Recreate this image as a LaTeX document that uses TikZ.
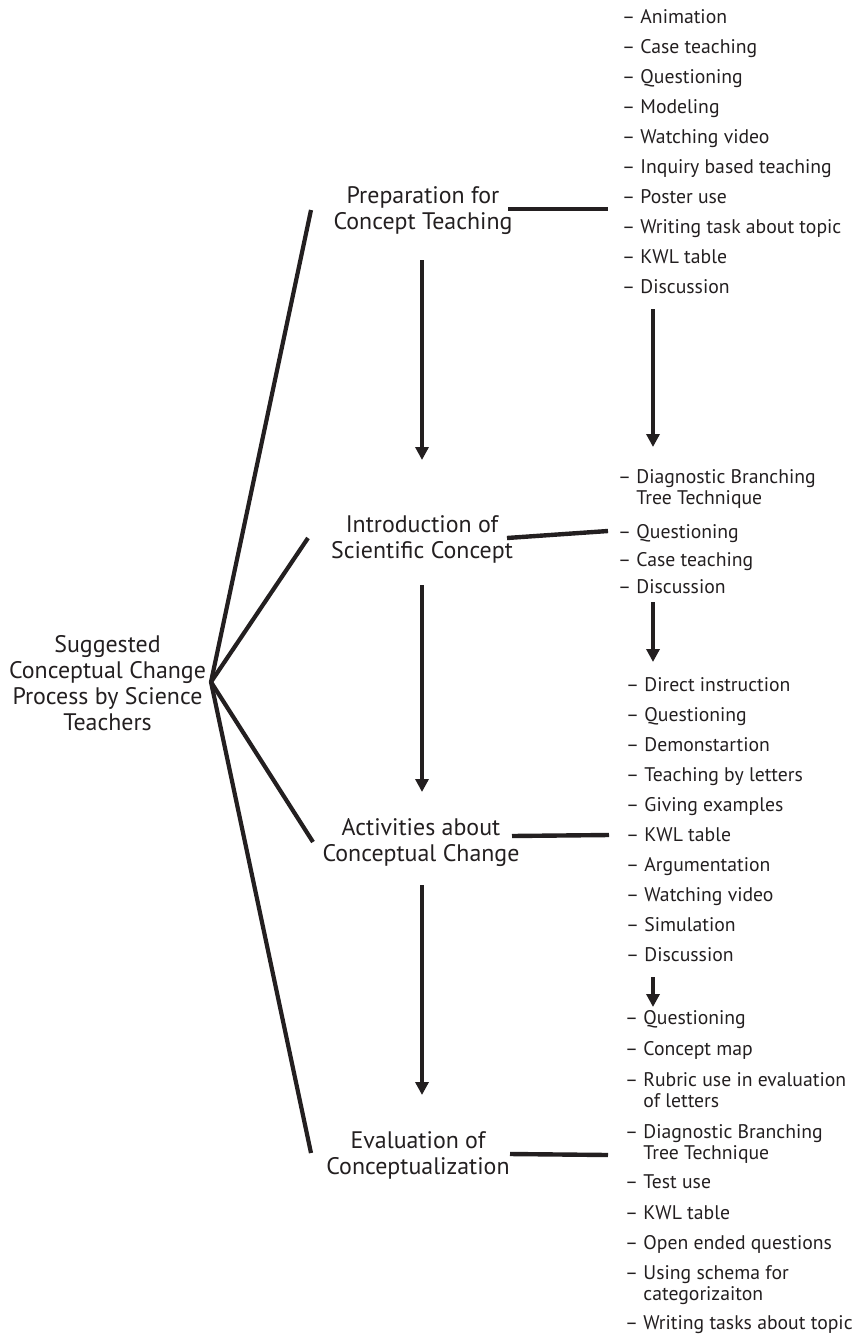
\documentclass[tikz,border=0pt]{standalone}
\usepackage{fontspec}
\setmainfont{PT Sans}
\usetikzlibrary{arrows.meta}
\definecolor{ink}{HTML}{231F20}

\begin{document}
\begin{tikzpicture}[x=1pt,y=-1pt,
  mainlabel/.style={font=\fontsize{23.9}{26}\selectfont, align=center, text=ink, inner sep=0pt},
  item/.style={font=\fontsize{19.7}{21}\selectfont, anchor=base west, text=ink, inner sep=0pt},
  link/.style={draw=ink, line width=4.4pt},
  fan/.style={draw=ink, line width=4.2pt},
  flow/.style={draw=ink, line width=3.4pt, -{Triangle[width=13pt,length=13pt]}}]
\useasboundingbox (0,0) rectangle (866,1336);

% two-line list entries keep the second line under the first word
\newcommand{\twoline}[2]{\begin{tabular}[t]{@{}l@{}}\textendash\ #1\\\phantom{\textendash\ }#2\end{tabular}}

% root and the four stages
\node[mainlabel] (sug)   at (107.5,683) {Suggested\\Conceptual Change\\Process by Science\\Teachers};
\node[mainlabel] (prep)  at (423,211)   {Preparation for\\Concept Teaching};
\node[mainlabel] (intro) at (422,539)   {Introduction of\\Scientific Concept};
\node[mainlabel] (act)   at (421,843)   {Activities about\\Conceptual Change};
\node[mainlabel] (eval)  at (418,1155)  {Evaluation of\\Conceptualization};

% fan from the root to each stage
\coordinate (hub) at (211,682);
\coordinate (f1) at (311,210);
\coordinate (f2) at (308,538);
\coordinate (f3) at (313,842);
\coordinate (f4) at (311,1153);
\draw[fan, line join=miter] (f1) -- (hub) -- (f4);
\draw[fan] (hub) -- (f2);
\draw[fan] (hub) -- (f3);

% stage-to-stage arrows
\coordinate (s1a) at (422,260);  \coordinate (s1b) at (422,460);
\coordinate (s2a) at (422,585);  \coordinate (s2b) at (422,792);
\coordinate (s3a) at (422,885);  \coordinate (s3b) at (422,1095);
\draw[flow] (s1a) -- (s1b);
\draw[flow] (s2a) -- (s2b);
\draw[flow] (s3a) -- (s3b);

% list of preparation methods
\foreach \t [count=\k from 0] in {Animation,Case teaching,Questioning,Modeling,Watching video,Inquiry based teaching,Poster use,Writing task about topic,KWL table,Discussion}
  \node[item] (p\k) at (622,23+30*\k) {\textendash\ \t};

% list of introduction methods
\node[item] (i0) at (618,483) {\twoline{Diagnostic Branching}{Tree Technique}};
\node[item] (i1) at (618,538) {\textendash\ Questioning};
\node[item] (i2) at (618,566) {\textendash\ Case teaching};
\node[item] (i3) at (618,593) {\textendash\ Discussion};

% list of activities
\foreach \t [count=\k from 0] in {Direct instruction,Questioning,Demonstartion,Teaching by letters,Giving examples,KWL table,Argumentation,Watching video,Simulation,Discussion}
  \node[item] (a\k) at (626,691+30*\k) {\textendash\ \t};

% list of evaluation methods
\node[item] (e0) at (625,1024) {\textendash\ Questioning};
\node[item] (e1) at (625,1055) {\textendash\ Concept map};
\node[item] (e2) at (625,1086) {\twoline{Rubric use in evaluation}{of letters}};
\node[item] (e3) at (625,1138) {\twoline{Diagnostic Branching}{Tree Technique}};
\node[item] (e4) at (625,1188) {\textendash\ Test use};
\node[item] (e5) at (625,1219) {\textendash\ KWL table};
\node[item] (e6) at (625,1249) {\textendash\ Open ended questions};
\node[item] (e7) at (625,1279) {\twoline{Using schema for}{categorizaiton}};
\node[item] (e8) at (625,1329) {\textendash\ Writing tasks about topic};

% stage-to-list connectors
\coordinate (c1a) at (508,209);  \coordinate (c1b) at (608,209);
\coordinate (c2a) at (507,538);  \coordinate (c2b) at (608,531);
\coordinate (c3a) at (512,836);  \coordinate (c3b) at (609,835);
\coordinate (c4a) at (510,1154); \coordinate (c4b) at (608,1155);
\draw[link] (c1a) -- (c1b);
\draw[link] (c2a) -- (c2b);
\draw[link] (c3a) -- (c3b);
\draw[link] (c4a) -- (c4b);

% list-to-list arrows
\coordinate (r1a) at (653,309);  \coordinate (r1b) at (653,447);
\coordinate (r2a) at (653,602);  \coordinate (r2b) at (653,662);
\coordinate (r3a) at (653,977);  \coordinate (r3b) at (653,1007);
\draw[flow] (r1a) -- (r1b);
\draw[flow] (r2a) -- (r2b);
\draw[flow] (r3a) -- (r3b);
\end{tikzpicture}
\end{document}
